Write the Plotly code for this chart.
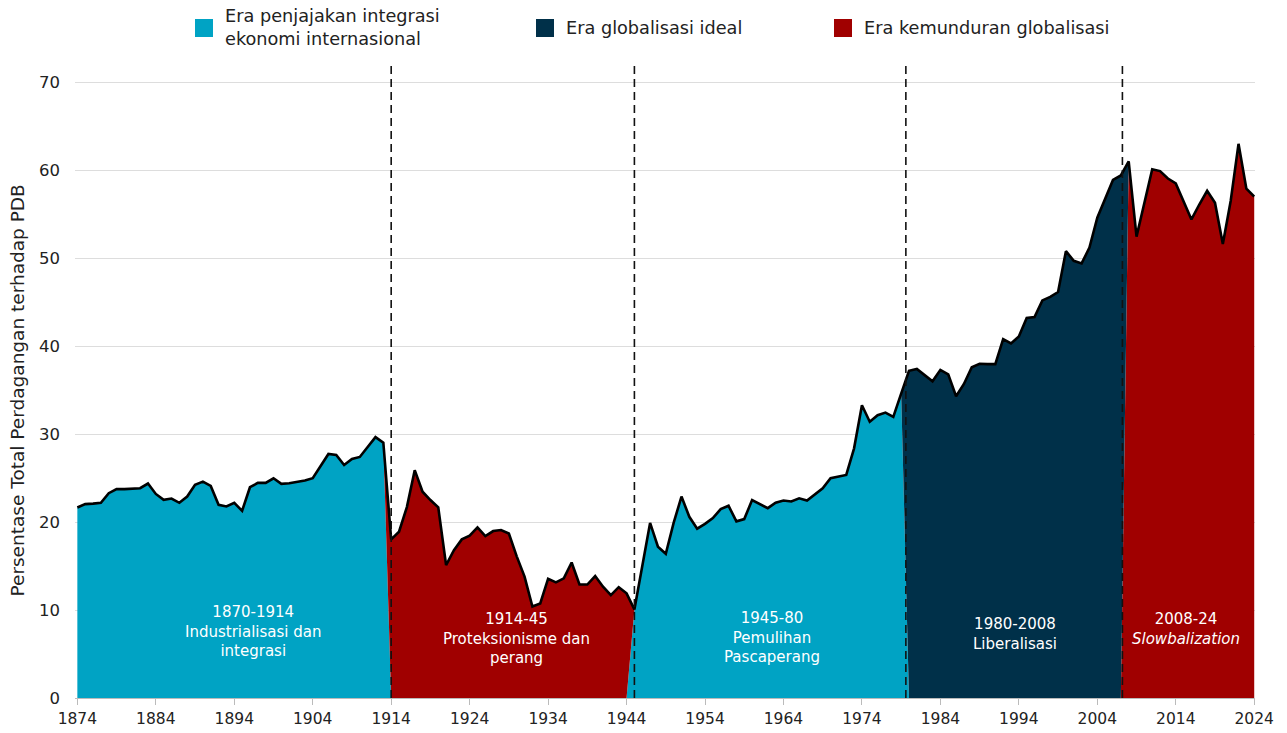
import plotly.graph_objects as go

# ---------------- data ----------------
years = list(range(1874, 2025))

values_1874_1913 = [21.66, 22.04, 22.1, 22.19, 23.28, 23.74, 23.74, 23.77, 23.85, 24.38,
                    23.2, 22.53, 22.68, 22.19, 22.9, 24.23, 24.6, 24.11, 21.96, 21.77,
                    22.19, 21.28, 23.96, 24.45, 24.45, 24.98, 24.34, 24.42, 24.57, 24.72,
                    24.98, 26.3, 27.74, 27.62, 26.49, 27.17, 27.4, 28.53, 29.66, 29.02]
values_1914_1944 = [18.03, 18.9, 21.7, 25.9, 23.45, 22.5, 21.67, 15.11, 16.8, 18.03,
                    18.45, 19.4, 18.4, 18.98, 19.09, 18.7, 16.1, 13.8, 10.4, 10.75,
                    13.56, 13.14, 13.6, 15.4, 12.9, 12.9, 13.86, 12.65, 11.7, 12.6, 11.9]
values_1945_1979 = [10.07, 15.0, 19.9, 17.2, 16.4, 19.9, 22.9, 20.6, 19.25, 19.8,
                    20.45, 21.47, 21.85, 20.08, 20.34, 22.5, 22.08, 21.58, 22.2, 22.45,
                    22.34, 22.7, 22.45, 23.1, 23.85, 24.98, 25.17, 25.36, 28.38, 33.28,
                    31.4, 32.15, 32.45, 31.96, 34.6]
values_1980_2007 = [37.2, 37.4, 36.7, 36.0, 37.3, 36.8, 34.3, 35.7, 37.6, 38.0,
                    37.96, 37.96, 40.8, 40.3, 41.1, 43.2, 43.3, 45.2, 45.6, 46.15,
                    50.8, 49.7, 49.4, 51.2, 54.6, 56.7, 58.9, 59.4]
values_2008_2024 = [61.0, 52.45, 56.3, 60.1, 59.9, 59.05, 58.5, 56.45, 54.4, 56.1,
                    57.66, 56.3, 51.6, 56.5, 63.0, 57.9, 57.0]

trade_share = (values_1874_1913 + values_1914_1944 + values_1945_1979
               + values_1980_2007 + values_2008_2024)

# era membership (first year, last year) per legend category
era_names = ["Era penjajakan integrasi<br>ekonomi internasional",
             "Era globalisasi ideal",
             "Era kemunduran globalisasi"]
era_spans = {
    "cyan": [(1874, 1913), (1945, 1979)],
    "dark": [(1980, 2007)],
    "red": [(1914, 1944), (2008, 2024)],
}
boundary_years = [1914, 1945, 1979.6, 2007.2]

period_labels = ["1870-1914<br>Industrialisasi dan<br>integrasi",
                 "1914-45<br>Proteksionisme dan<br>perang",
                 "1945-80<br>Pemulihan<br>Pascaperang",
                 "1980-2008<br>Liberalisasi",
                 "2008-24<br><i>Slowbalization</i>"]
period_label_x = [1896.5, 1930.0, 1962.5, 1993.5, 2015.3]
period_label_y = [7.6, 6.8, 6.9, 7.3, 7.8]

y_ticks = [0, 10, 20, 30, 40, 50, 60, 70]
x_ticks = list(range(1874, 2025, 10))
y_title = "Persentase Total Perdagangan terhadap PDB"

# ---------------- style ----------------
COL = {"cyan": "#00A3C4", "dark": "#003049", "red": "#A00000"}
FONT = "DejaVu Sans"
W, H = 1287, 733
L, R, T, B = 75, 32, 62, 35
PW, PH = W - L - R, H - T - B


def in_era(y, spans):
    return any(a <= y <= b for a, b in spans)


def series_for(key):
    return [v if in_era(y, era_spans[key]) else 0 for y, v in zip(years, trade_share)]


def px(xp):
    return (xp - L) / PW


def py(yp):
    return (H - B - yp) / PH


fig = go.Figure()

# stacked areas: order cyan, red, dark (bottom to top)
for key in ["cyan", "red", "dark"]:
    fig.add_trace(go.Scatter(
        x=years, y=series_for(key), mode="lines", stackgroup="one",
        line=dict(width=0, color=COL[key]), fillcolor=COL[key],
        showlegend=False, hoverinfo="skip"))

# outline
fig.add_trace(go.Scatter(
    x=years, y=trade_share, mode="lines",
    line=dict(color="black", width=2.6), showlegend=False,
    hovertemplate="%{x}: %{y:.1f}%<extra></extra>"))

shapes = []
for bx in boundary_years:
    shapes.append(dict(type="line", xref="x", yref="paper", x0=bx, x1=bx, y0=0, y1=1,
                       line=dict(color="#111111", width=1.6, dash="8px,5px"), layer="above"))

# manual legend
legend_sq_x = [195, 536, 834]
legend_keys = ["cyan", "dark", "red"]
annotations = []
for sx, key, name in zip(legend_sq_x, legend_keys, era_names):
    shapes.append(dict(type="rect", xref="paper", yref="paper",
                       x0=px(sx), x1=px(sx + 18), y0=py(37), y1=py(19),
                       fillcolor=COL[key], line=dict(width=0)))
    annotations.append(dict(xref="paper", yref="paper", x=px(sx + 28), y=py(28),
                            xanchor="left", yanchor="middle", align="left",
                            text=name, showarrow=False,
                            font=dict(family=FONT, size=17.7, color="#222222")))

for lx, ly, txt in zip(period_label_x, period_label_y, period_labels):
    annotations.append(dict(x=lx, y=ly, xref="x", yref="y", text=txt, showarrow=False,
                            xanchor="center", yanchor="middle", align="center",
                            font=dict(family=FONT, size=15, color="white")))

# y-axis title
annotations.append(dict(xref="paper", yref="paper", x=px(17), y=py(390.5),
                        xanchor="center", yanchor="middle", textangle=-90,
                        text=y_title, showarrow=False,
                        font=dict(family=FONT, size=18.5, color="#222222")))

fig.update_layout(
    width=W, height=H, autosize=False,
    margin=dict(l=L, r=R, t=T, b=B, pad=0, autoexpand=False),
    paper_bgcolor="white", plot_bgcolor="white",
    font=dict(family=FONT, size=16, color="#222222"),
    shapes=shapes, annotations=annotations,
    xaxis=dict(range=[1873.7, 2024.1], tickvals=x_ticks, ticktext=[str(t) for t in x_ticks],
               showgrid=False, zeroline=False, showline=True, linecolor="#BBBBBB",
               ticks="outside", ticklen=6, tickcolor="#BBBBBB", automargin=False,
               tickfont=dict(family=FONT, size=15.5, color="#222222")),
    yaxis=dict(range=[0, 72.3], tickvals=y_ticks, showgrid=True, gridcolor="#DDDDDD",
               gridwidth=1, zeroline=False, ticks="", ticklabelstandoff=14, automargin=False,
               tickfont=dict(family=FONT, size=16.5, color="#222222")),
)

fig.write_html(
    "out.html",
    config={"displayModeBar": False},
    post_script="document.body.style.margin='0';document.body.style.overflow='hidden';",
)
